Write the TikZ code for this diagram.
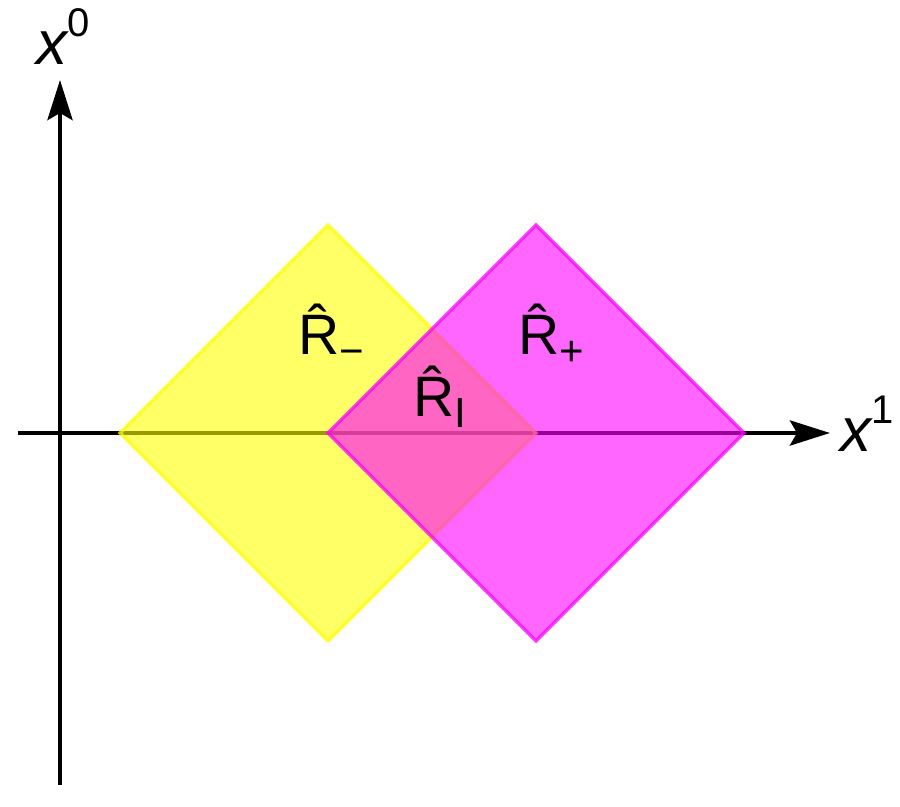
\documentclass[tikz,border=0pt]{standalone}
\usepackage{fontspec}
\setmainfont{Liberation Sans}
\usetikzlibrary{arrows.meta}
\definecolor{myellow}{rgb}{1, 1, 0}
\definecolor{mmagenta}{rgb}{1, 0, 1}
\newcommand{\axlbl}[1]{{\fontsize{31}{31}\selectfont\itshape x}\raisebox{14pt}{\fontsize{20}{20}\selectfont #1}}
\newcommand{\rlbl}[1]{{\fontsize{28.5}{28.5}\selectfont\^{R}}\raisebox{-5.5pt}{\fontsize{21}{21}\selectfont #1}}
\tikzset{axis/.style = {line width = 2.4pt,
                        -{Stealth[length = 20pt, width = 12.5pt, inset = 3.5pt]}}}
\tikzset{region/.style = {line width = 1.6pt, fill opacity = 0.6, draw opacity = 0.75}}
\tikzset{lbl/.style = {inner sep = 0, anchor = base west}}

\begin{document}
\begin{tikzpicture}[x = 0.5pt, y = -0.5pt]
      \useasboundingbox (0, 0) rectangle (900, 807);
      % axes
      \coordinate (ybot) at (60, 785);
      \coordinate (ytop) at (60, 80);
      \coordinate (xlft) at (18, 433);
      \coordinate (xrgt) at (830, 433);
      \draw [axis] (ybot) -- (ytop);
      \draw [axis] (xlft) -- (xrgt);
      \node [lbl] (xzero) at (36, 65) {\axlbl{0}};
      \node [lbl] (xone) at (840, 452) {\axlbl{1}};
      % regions
      \draw [region, draw = myellow, fill = myellow]
            (120, 433) -- (328, 225) -- (536, 433) -- (328, 641) -- cycle;
      \draw [region, draw = mmagenta, fill = mmagenta]
            (328, 433) -- (536, 225) -- (744, 433) -- (536, 641) -- cycle;
      \node [lbl] (rminus) at (298, 355) {\rlbl{−}};
      \node [lbl] (rplus) at (518, 355) {\rlbl{+}};
      \node [lbl] (rint) at (413, 417) {\rlbl{I}};
    \end{tikzpicture}
\end{document}
